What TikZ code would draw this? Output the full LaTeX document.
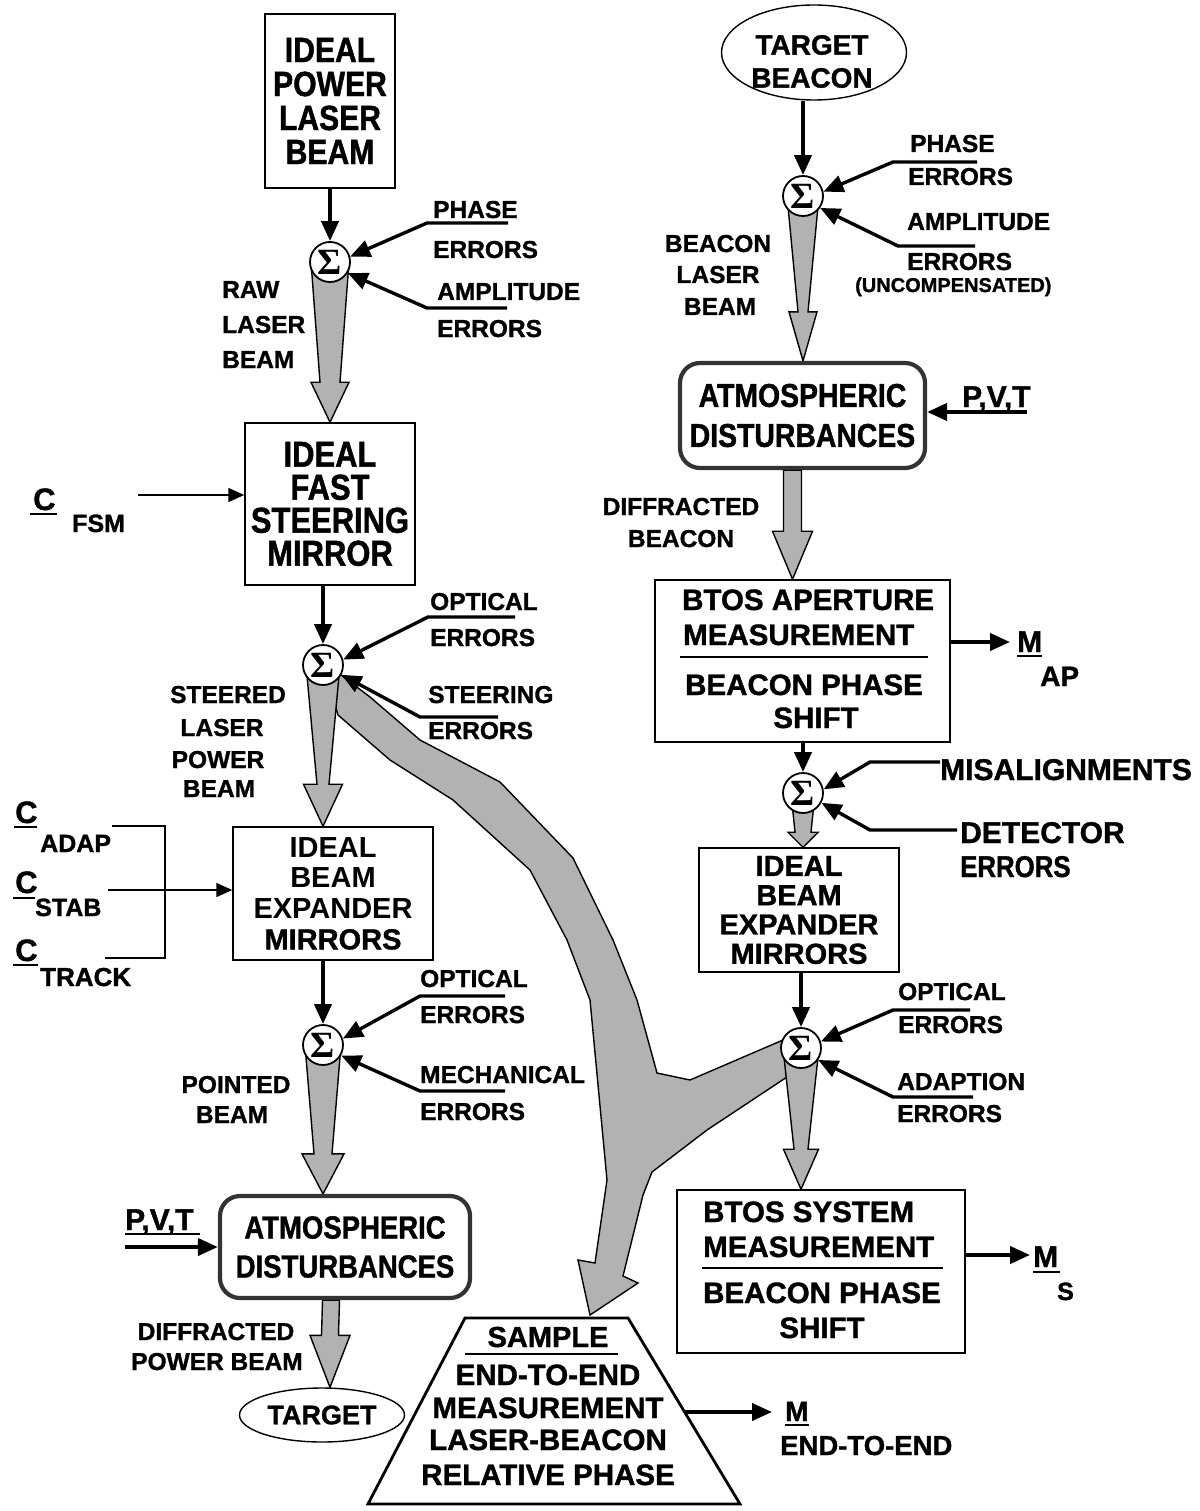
\documentclass[tikz,border=0pt]{standalone}
\usepackage{fontspec}
\setmainfont{Liberation Sans}[BoldFeatures={FakeBold=1.2}]
\newfontfamily\narrowsans{Liberation Sans}[FakeStretch=0.86, BoldFeatures={FakeBold=1.2}]
\newfontfamily\plainsans{Liberation Sans}
\newfontfamily\sigmafont{Liberation Serif}
\usetikzlibrary{arrows.meta,calc,shapes.geometric}
\pgfdeclarelayer{bg}
\pgfsetlayers{bg,main}
\newcommand{\fsz}[2]{\fontsize{#1}{#2}\selectfont}
% hollow shaded beam arrow: #1 source point, #2 tip point,
% #3 half width at source, #4 shaft half width at head, #5 wing half width, #6 head length
\newcommand{\beamto}[6]{%
  \filldraw[beam] let \p1=(#1), \p2=(#2) in
    (\x1-#3,\y1) -- (\x2-#4,\y2+#6) -- (\x2-#5,\y2+#6) -- (\x2,\y2)
    -- (\x2+#5,\y2+#6) -- (\x2+#4,\y2+#6) -- (\x1+#3,\y1) -- cycle;}

\begin{document}
\begin{tikzpicture}[x=1pt,y=-1pt,
  lbl/.style={inner sep=0pt, font=\bfseries\fsz{24.5}{30}},
  biglbl/.style={inner sep=0pt, font=\bfseries\fsz{30}{30}},
  boxlbl/.style={inner sep=0pt, font=\bfseries\fsz{29.5}{30}},
  sublbl/.style={inner sep=0pt, font=\bfseries\fsz{25}{25}},
  blk/.style={draw, line width=1.5pt, inner sep=0pt, fill=white},
  sum/.style={circle, draw, line width=1.8pt, fill=white, minimum size=40pt,
    inner sep=0pt, font=\sigmafont\bfseries\fsz{37}{37}},
  feed/.style={line width=4pt, -{Triangle[length=20pt,width=17pt]}},
  inp/.style={line width=3.4pt, line join=miter, -{Triangle[length=20pt,width=17pt]}},
  ctl/.style={line width=1.6pt, -{Triangle[length=16pt,width=14pt]}},
  beam/.style={draw, line width=1.4pt, fill=black!30, line join=miter},
  atmo/.style={draw=black!80, line width=4.2pt, rounded corners=20pt, inner sep=0pt, fill=white},
  uline/.style={line width=1.8pt},
]
\useasboundingbox (0,0) rectangle (1199,1511);

% ---------------- power beam chain (left) ----------------
\node[blk, minimum width=130, minimum height=174, align=center,
  font=\narrowsans\bfseries\fsz{35}{34}] (laser) at (330,101) {IDEAL\\POWER\\LASER\\BEAM};
\node[blk, minimum width=170, minimum height=162, align=center,
  font=\narrowsans\bfseries\fsz{36}{33}] (fsm) at (330,504) {IDEAL\\FAST\\STEERING\\MIRROR};
\node[blk, minimum width=200, minimum height=133, align=center,
  font=\fsz{29}{30.7}] (bexl) at (333,893.5)
  {\plainsans\bfseries IDEAL\\\plainsans\bfseries BEAM\\\plainsans\bfseries EXPANDER\\\bfseries MIRRORS};
\node[atmo, minimum width=250, minimum height=102, align=center,
  font=\narrowsans\bfseries\fsz{32}{39}] (atml) at (345,1247) {ATMOSPHERIC\\DISTURBANCES};
\node[ellipse, draw, line width=1.4pt, minimum width=165, minimum height=54, inner sep=0pt,
  font=\bfseries\fsz{27}{27}] (target) at (322,1415) {TARGET};

\node[sum] (s1) at (330,262) {Σ};
\node[sum] (s2) at (323,665) {Σ};
\node[sum] (s3) at (323,1045) {Σ};

% ---------------- beacon chain (right) ----------------
\node[ellipse, draw, line width=1.4pt, minimum width=185, minimum height=95, inner sep=0pt] (beacon) at (814,52.5) {};
\node[align=center, inner sep=0pt, font=\bfseries\fsz{28}{33}] (beacontxt) at (812,61.5) {TARGET\\BEACON};
\node[atmo, minimum width=245, minimum height=105, align=center,
  font=\narrowsans\bfseries\fsz{33}{40}] (atmr) at (802.5,415.5) {ATMOSPHERIC\\DISTURBANCES};
\node[blk, minimum width=295, minimum height=162] (ap) at (802.5,661) {};
\node[blk, minimum width=200, minimum height=124, align=center,
  font=\bfseries\fsz{29}{29.3}] (bexr) at (799,910) {IDEAL\\BEAM\\EXPANDER\\MIRRORS};
\node[blk, minimum width=288, minimum height=163] (sys) at (821,1271.5) {};

\node[sum] (s4) at (803,196) {Σ};
\node[sum] (s5) at (803,793) {Σ};
\node[sum] (s6) at (801,1048) {Σ};

% end-to-end sampling trapezoid
\draw[line width=2.8pt, line join=miter] (465,1318) -- (628,1318) -- (740,1504) -- (368,1504) -- cycle;
\coordinate (trapE) at (684.6,1412);

% ---------------- shaded beams ----------------
\begin{pgfonlayer}{bg}
  % branch carrying both beams to the sampler
  \filldraw[beam] (323,665) -- (341,675) -- (370,697) -- (420,740) -- (500,782) -- (573,858)
    -- (613,940) -- (637,1000) -- (657,1073) -- (690,1080) -- (783,1040) -- (801,1048)
    -- (790,1075) -- (707,1130) -- (652,1172) -- (643,1195) -- (623,1276) -- (638,1283)
    -- (590,1315) -- (578,1260) -- (595,1263) -- (607,1180) -- (590,1000) -- (567,940)
    -- (530,870) -- (453,800) -- (390,760) -- (338,715) -- cycle;
  \beamto{s1.center}{s1 |- fsm.north}{19pt}{10pt}{19pt}{40pt}
  \beamto{s2.center}{s2 |- bexl.north}{17pt}{6pt}{19.5pt}{42pt}
  \beamto{s3.center}{s3 |- atml.north}{18pt}{9pt}{21pt}{40pt}
  \beamto{$(target |- atml.south)+(9,0)$}{$(target.north)+(8,0)$}{8.5pt}{8.5pt}{20pt}{52pt}
  \beamto{s4.center}{s4 |- atmr.north}{16pt}{5pt}{14pt}{49pt}
  \beamto{$(atmr.south)+(-10,0)$}{$(ap.north)+(-10,0)$}{9pt}{9pt}{20pt}{48pt}
  \beamto{s5.center}{s5 |- bexr.north}{12pt}{8pt}{15pt}{15pt}
  \beamto{s6.center}{s6 |- sys.north}{18pt}{7pt}{17.5pt}{40pt}
\end{pgfonlayer}

% ---------------- feed arrows ----------------
\draw[feed] (laser.south) -- (s1.north);
\draw[feed] (s2 |- fsm.south) -- (s2.north);
\draw[feed] (s3 |- bexl.south) -- (s3.north);
\draw[feed] (s4 |- beacon.south) -- (s4.north);
\draw[feed] (s5 |- ap.south) -- (s5.north);
\draw[feed] (s6 |- bexr.south) -- (s6.north);

% ---------------- error inputs ----------------
\draw[inp] (508,223) -- ++(-81,0) -- (s1.15);
\draw[inp] (507,308) -- ++(-80,0) -- (s1.-32);
\draw[inp] (515,617) -- ++(-87,0) -- (s2.15);
\draw[inp] (498,717) -- ++(-78,0) -- (s2.-28);
\draw[inp] (505,996) -- ++(-85,0) -- (s3.18);
\draw[inp] (505,1091) -- ++(-85,0) -- (s3.-30);
\draw[inp] (977,162) -- ++(-84,0) -- (s4.12);
\draw[inp] (975,246) -- ++(-77,0) -- (s4.-35);
\draw[inp] (940,762) -- ++(-70,0) -- (s5.10);
\draw[inp] (957,830) -- ++(-87,0) -- (s5.-28);
\draw[inp] (970,1010) -- ++(-77,0) -- (s6.18);
\draw[inp] (973,1097) -- ++(-80,0) -- (s6.-35);

% ---------------- commands and outputs ----------------
\coordinate (cfsm) at (138,495);
\draw[ctl] (cfsm) -- (cfsm -| fsm.west);
\coordinate (cbr) at (108,890);
\draw[line width=1.6pt] (112,826) -| (165,958) -- (105,958);
\draw[ctl] (cbr) -- (cbr -| bexl.west);
\coordinate (pvtl) at (125,1247);
\draw[feed] (pvtl) -- (pvtl -| atml.west);
\coordinate (pvtr) at (1027,412);
\draw[feed] (pvtr) -- (pvtr -| atmr.east);
\coordinate (map) at (1010,642);
\draw[feed] (map -| ap.east) -- (map);
\coordinate (ms) at (1030,1255);
\draw[feed] (ms -| sys.east) -- (ms);
\coordinate (me2e) at (772,1412);
\draw[feed] (trapE) -- (me2e);

% ---------------- labels: left ----------------
\node[lbl, anchor=base west] (raw1) at (222,298) {RAW};
\node[lbl, anchor=base west] (raw2) at (222,333) {LASER};
\node[lbl, anchor=base west] (raw3) at (222,368) {BEAM};
\node[lbl, anchor=base west] (ph1) at (433,218) {PHASE};
\node[lbl, anchor=base west] (ph2) at (433,258) {ERRORS};
\node[lbl, anchor=base west] (am1) at (437,300) {AMPLITUDE};
\node[lbl, anchor=base west] (am2) at (437,337) {ERRORS};
\node[biglbl, font=\bfseries\fsz{31}{31}, anchor=base west] (cf) at (33,510) {C};
\node[sublbl, anchor=base west] (cfs) at (72,532) {FSM};
\draw[uline] (30,514) -- (57,514);
\node[lbl, anchor=base west] (op1) at (430,610) {OPTICAL};
\node[lbl, anchor=base west] (op2) at (430,646) {ERRORS};
\node[lbl, anchor=base west] (st1) at (428,703) {STEERING};
\node[lbl, anchor=base west] (st2) at (428,739) {ERRORS};
\node[lbl, anchor=base] (sb1) at (228,703) {STEERED};
\node[lbl, anchor=base] (sb2) at (222,736) {LASER};
\node[lbl, anchor=base] (sb3) at (218,768) {POWER};
\node[lbl, anchor=base] (sb4) at (219,797) {BEAM};
\node[biglbl, font=\bfseries\fsz{31}{31}, anchor=base west] (ca) at (15,823) {C};
\node[sublbl, anchor=base west] (cas) at (40,852) {ADAP};
\draw[uline] (14,827) -- (37,827);
\node[biglbl, font=\bfseries\fsz{31}{31}, anchor=base west] (cs) at (15,893) {C};
\node[sublbl, anchor=base west] (css) at (35,916) {STAB};
\draw[uline] (13,898) -- (35,898);
\node[biglbl, font=\bfseries\fsz{31}{31}, anchor=base west] (ct) at (15,961) {C};
\node[sublbl, font=\bfseries\fsz{26}{26}, anchor=base west] (cts) at (40,986) {TRACK};
\draw[uline] (13,965) -- (38,965);
\node[lbl, anchor=base west] (oq1) at (420,987) {OPTICAL};
\node[lbl, anchor=base west] (oq2) at (420,1023) {ERRORS};
\node[lbl, anchor=base west] (me1) at (420,1083) {MECHANICAL};
\node[lbl, anchor=base west] (me2) at (420,1120) {ERRORS};
\node[lbl, anchor=base] (pb1) at (236,1093) {POINTED};
\node[lbl, anchor=base] (pb2) at (232,1123) {BEAM};
\node[biglbl, anchor=base west] (pvt1) at (125,1230) {P,V,T};
\draw[uline] (125,1234) -- (200,1234);
\node[lbl, anchor=base] (dp1) at (216,1340) {DIFFRACTED};
\node[lbl, anchor=base] (dp2) at (217,1370) {POWER BEAM};

% sampler text
\node[boxlbl, font=\bfseries\fsz{29}{29}, anchor=base] (sample) at (548,1347) {SAMPLE};
\draw[uline] (465,1354) -- (618,1354);
\node[boxlbl, anchor=base] (smp1) at (548,1385) {END-TO-END};
\node[boxlbl, anchor=base] (smp2) at (548,1418) {MEASUREMENT};
\node[boxlbl, anchor=base] (smp3) at (548,1450) {LASER-BEACON};
\node[boxlbl, anchor=base] (smp4) at (548,1485) {RELATIVE PHASE};
\node[biglbl, font=\bfseries\fsz{28}{28}, anchor=base west] (me) at (785,1421) {M};
\draw[uline] (785,1425) -- (809,1425);
\node[sublbl, font=\bfseries\fsz{27.5}{27.5}, anchor=base west] (mes) at (780,1455) {END-TO-END};

% ---------------- labels: right ----------------
\node[lbl, anchor=base west] (rph1) at (910,152) {PHASE};
\node[lbl, anchor=base west] (rph2) at (908,185) {ERRORS};
\node[lbl, anchor=base west] (ram1) at (907,230) {AMPLITUDE};
\node[lbl, anchor=base west] (ram2) at (907,270) {ERRORS};
\node[lbl, font=\bfseries\fsz{20}{20}, anchor=base west] (ram3) at (855,292) {(UNCOMPENSATED)};
\node[lbl, anchor=base] (bl1) at (718,252) {BEACON};
\node[lbl, anchor=base] (bl2) at (718,283) {LASER};
\node[lbl, anchor=base] (bl3) at (720,315) {BEAM};
\node[biglbl, anchor=base west] (pvt2) at (962,407) {P,V,T};
\node[lbl, anchor=base] (db1) at (681,515) {DIFFRACTED};
\node[lbl, anchor=base] (db2) at (681,547) {BEACON};
\node[boxlbl, anchor=base west] (ap1) at (682,610) {BTOS APERTURE};
\node[boxlbl, anchor=base west] (ap2) at (683,645) {MEASUREMENT};
\draw[uline] (680,657) -- (928,657);
\node[boxlbl, anchor=base] (ap3) at (804,695) {BEACON PHASE};
\node[boxlbl, anchor=base] (ap4) at (816,728) {SHIFT};
\node[biglbl, anchor=base west] (mapm) at (1017,652) {M};
\draw[uline] (1017,656) -- (1042,656);
\node[sublbl, font=\bfseries\fsz{28}{28}, anchor=base west] (maps) at (1040,686) {AP};
\node[biglbl, anchor=base west] (mis) at (940,780) {MISALIGNMENTS};
\node[biglbl, anchor=base west] (det1) at (960,843) {DETECTOR};
\node[biglbl, font=\narrowsans\bfseries\fsz{30}{30}, anchor=base west] (det2) at (960,877) {ERRORS};
\node[lbl, anchor=base west] (ro1) at (898,1000) {OPTICAL};
\node[lbl, anchor=base west] (ro2) at (898,1033) {ERRORS};
\node[lbl, anchor=base west] (ad1) at (897,1090) {ADAPTION};
\node[lbl, anchor=base west] (ad2) at (897,1122) {ERRORS};
\node[boxlbl, anchor=base west] (sy1) at (703,1222) {BTOS SYSTEM};
\node[boxlbl, anchor=base west] (sy2) at (703,1257) {MEASUREMENT};
\draw[uline] (702,1268) -- (943,1268);
\node[boxlbl, anchor=base] (sy3) at (822,1303) {BEACON PHASE};
\node[boxlbl, anchor=base] (sy4) at (822,1338) {SHIFT};
\node[biglbl, anchor=base west] (msm) at (1033,1267) {M};
\draw[uline] (1033,1272) -- (1060,1272);
\node[sublbl, anchor=base west] (mss) at (1057,1300) {S};
\end{tikzpicture}
\end{document}
